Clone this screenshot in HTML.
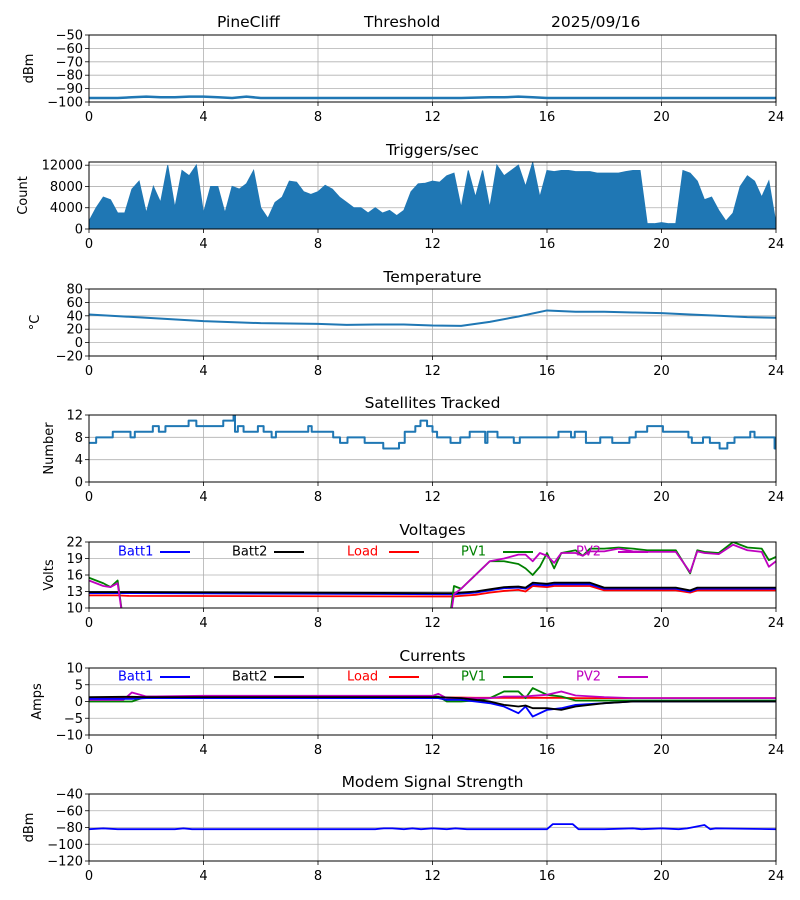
<!DOCTYPE html>
<html><head><meta charset="utf-8"><style>
html,body{margin:0;padding:0;background:#fff;}
svg{display:block;font-family:"DejaVu Sans","Liberation Sans",sans-serif;}
</style></head><body>
<svg id="fig" width="800" height="900" viewBox="0 0 800 900">
<text x="217" y="27" font-size="15.5">PineCliff</text>
<text x="364" y="27" font-size="15.5">Threshold</text>
<text x="551" y="27" font-size="15.5">2025/09/16</text>
</svg>
<script>
// ---- data ----
const xTicks = [0,4,8,12,16,20,24];
const sigH = [0,0.5,1,1.5,2,2.5,3,3.5,4,4.5,5,5.5,6,8,12,13,14,14.5,15,15.5,16,20,24];
const sigV = [-97,-97,-97,-96.5,-96,-96.5,-96.5,-96,-96,-96.5,-97,-96,-97,-97,-97,-97,-96.5,-96.5,-96,-96.5,-97,-97,-97];
const trigH = [0,0.25,0.5,0.75,1,1.25,1.5,1.75,2,2.25,2.5,2.75,3,3.25,3.5,3.75,4,4.25,4.5,4.75,5,5.25,5.5,5.75,6,6.25,6.5,6.75,7,7.25,7.5,7.75,8,8.25,8.5,8.75,9,9.25,9.5,9.75,10,10.25,10.5,10.75,11,11.25,11.5,11.75,12,12.25,12.5,12.75,13,13.25,13.5,13.75,14,14.25,14.5,14.75,15,15.25,15.5,15.75,16,16.25,16.5,16.75,17,17.25,17.5,17.75,18,18.25,18.5,18.75,19,19.25,19.5,19.75,20,20.25,20.5,20.75,21,21.25,21.5,21.75,22,22.25,22.5,22.75,23,23.25,23.5,23.75,24];
const trigV = [1500,4000,6000,5500,3000,3000,7500,9000,3000,8000,5000,12000,4000,11000,10000,12000,3000,8000,8000,3000,8000,7500,8500,11000,4000,2000,5000,6000,9000,8800,7000,6500,7000,8200,7500,6000,5000,4000,4000,3000,4000,3000,3500,2500,3500,7000,8500,8600,9000,8800,10000,10500,4000,11000,6000,11000,4000,12000,10000,11000,12000,8000,12500,6000,11000,10800,11000,11000,10800,10800,10800,10500,10500,10500,10500,10800,11000,11000,1000,1000,1200,1000,1000,11000,10500,9000,5500,6000,3500,1500,3000,8000,10000,9000,6000,9000,1000];
const tempH = [0,2,4,6,8,9,10,11,12,13,14,15,16,17,18,19,20,21,22,23,24];
const tempV = [42,37,32,29,28,26.5,27,27,25.5,25,31,39,48,46,46,45,44,42,40,38,37];
const satH = [0,0.25,0.83,1.45,1.6,2.23,2.44,2.67,3.48,3.75,4.69,5.05,5.1,5.2,5.4,5.9,6.1,6.38,6.53,7.66,7.78,8.53,8.77,9.03,9.63,10.28,10.83,11.03,11.4,11.58,11.81,12,12.16,12.63,12.97,13.3,13.84,13.92,14.27,14.84,15.05,16.4,16.84,16.97,17.36,17.86,18.28,18.88,19.1,19.5,20.05,20.94,21.06,21.45,21.69,22.03,22.3,22.55,23.1,23.25,23.95,24];
const satV = [7,8,9,8,9,10,9,10,11,10,11,12,9,10,9,10,9,8,9,10,9,8,7,8,7,6,7,9,10,11,10,9,8,7,8,9,7,9,8,7,8,9,8,9,7,8,7,8,9,10,9,8,7,8,7,6,7,8,9,8,6,6];
const vH = [0,0.5,0.75,1,1.4,12.4,12.75,13,13.5,14,14.5,15,15.25,15.5,15.75,16,16.25,16.5,17,17.25,17.5,18,18.5,19,19.5,20,20.5,21,21.25,21.5,22,22.5,23,23.5,23.75,24];
const vBatt1 = [12.7,12.7,12.7,12.7,12.7,12.5,12.5,12.6,12.8,13.2,13.6,13.7,13.5,14.3,14.2,14.1,14.3,14.3,14.3,14.3,14.3,13.5,13.5,13.5,13.5,13.5,13.5,13.0,13.5,13.5,13.5,13.5,13.5,13.5,13.5,13.5];
const vBatt2 = [12.9,12.9,12.9,12.9,12.9,12.7,12.7,12.8,13.0,13.4,13.8,13.9,13.7,14.6,14.5,14.4,14.6,14.6,14.6,14.6,14.6,13.7,13.7,13.7,13.7,13.7,13.7,13.2,13.7,13.7,13.7,13.7,13.7,13.7,13.7,13.7];
const vLoad = [12.3,12.3,12.3,12.3,12.2,12.1,12.1,12.2,12.4,12.8,13.1,13.3,13.0,14.0,13.9,13.8,14.0,14.0,14.0,14.0,14.0,13.2,13.2,13.2,13.2,13.2,13.2,12.8,13.2,13.2,13.2,13.2,13.2,13.2,13.2,13.2];
const vPV1 = [15.5,14.5,13.8,15,0,0,14,13.5,16,18.5,18.5,18,17.2,16,17.5,20,17.2,20,20.5,19.5,20.8,20.8,21,20.8,20.5,20.5,20.5,16.3,20.5,20.2,20,22,21,20.8,18.7,19.3];
const vPV2 = [15,14,13.8,14.5,0,0,12.5,13.5,16,18.5,19,19.7,19.7,18.5,20,19.5,18.2,20,20,19.5,20.3,20.3,20.8,20.3,20.2,20.2,20.2,16.5,20.3,20,19.8,21.5,20.5,20.2,17.5,18.5];
const cH = [0,1.2,1.5,2,4,8,12,12.2,12.5,13,13.5,14,14.5,15,15.25,15.5,16,16.5,17,18,19,20,22,24];
const cBatt1 = [0.8,0.8,0.8,1,1,1,1,1,0.5,0.5,0,-0.5,-1.5,-3.5,-1.5,-4.5,-2.5,-2,-1,-0.5,0,0,0,0];
const cBatt2 = [1.3,1.4,1.4,1.3,1.3,1.3,1.3,1.3,1.2,1,0.5,0,-1,-1.5,-1.2,-2,-2,-2.5,-1.5,-0.5,0,0,0,0];
const cLoad = [1.2,1.2,1.2,1.2,1.2,1.2,1.2,1.2,1.2,1.2,1.1,1.1,1.1,1.1,1.1,1.1,1.1,1.1,1,1,1,1,1,1];
const cPV1 = [0,0,0,1.5,1.5,1.5,1.5,1.5,0,0,0.3,1,3,3,1,4,2,1.5,0.3,0.3,0.3,0.3,0.3,0.3];
const cPV2 = [0.5,0.5,2.7,1.5,1.7,1.7,1.7,2.3,1,1,1,1,1.5,1.5,1.5,1.7,2,3,1.8,1.3,1,1,1,1];
const mH = [0,0.5,1,3,3.3,3.6,10,10.3,10.6,11,11.3,11.6,12,12.5,12.8,13.2,16,16.2,16.9,17.1,18,19,19.3,20,20.6,20.9,21.5,21.7,21.9,24];
const mV = [-82,-81,-82,-82,-81,-82,-82,-81,-81,-82,-81,-82,-81,-82,-81,-82,-82,-76,-76,-82,-82,-81,-82,-81,-82,-81,-77,-82,-81,-82];

// ---- helpers ----
const NS = "http://www.w3.org/2000/svg";
const svg = document.getElementById('fig');
const X0 = 89, X1 = 776;
function xs(h){ return X0 + (h/24)*(X1-X0); }
function mk(tag, attrs){ const e = document.createElementNS(NS, tag); for (const k in attrs) e.setAttribute(k, attrs[k]); svg.appendChild(e); return e; }
function fmt(v){ return v < 0 ? '\u2212' + Math.abs(v) : String(v); }

const panels = [
 {key:'signal', title:'', top:35, bottom:102, ymin:-100, ymax:-50, ticks:[-50,-60,-70,-80,-90,-100], ylabel:'dBm', lx:29},
 {key:'triggers', title:'Triggers/sec', top:162, bottom:229, ymin:0, ymax:12600, ticks:[0,4000,8000,12000], ylabel:'Count', lx:23},
 {key:'temperature', title:'Temperature', top:289, bottom:356, ymin:-20, ymax:80, ticks:[80,60,40,20,0,-20], ylabel:'°C', lx:35},
 {key:'satellites', title:'Satellites Tracked', top:415, bottom:482, ymin:0, ymax:12, ticks:[12,8,4,0], ylabel:'Number', lx:49},
 {key:'voltages', title:'Voltages', top:542, bottom:608, ymin:10, ymax:22, ticks:[22,19,16,13,10], ylabel:'Volts', lx:49},
 {key:'currents', title:'Currents', top:668, bottom:735, ymin:-10, ymax:10, ticks:[10,5,0,-5,-10], ylabel:'Amps', lx:37},
 {key:'modem', title:'Modem Signal Strength', top:794, bottom:861, ymin:-120, ymax:-40, ticks:[-40,-60,-80,-100,-120], ylabel:'dBm', lx:29}
];

function ysFor(p){ return v => p.bottom - (v - p.ymin)/(p.ymax - p.ymin)*(p.bottom - p.top); }

panels.forEach((p, i) => {
  const ys = ysFor(p);
  p.ys = ys;
  const clip = mk('clipPath', {id:'clip'+i});
  const cr = document.createElementNS(NS,'rect');
  cr.setAttribute('x', X0); cr.setAttribute('y', p.top); cr.setAttribute('width', X1-X0); cr.setAttribute('height', p.bottom-p.top);
  clip.appendChild(cr);
  xTicks.forEach(t => {
    const g = mk('line', {x1:xs(t), x2:xs(t), y1:p.top, y2:p.bottom, stroke:'#b0b0b0', 'stroke-width':0.8});
    
    
    const tk = mk('line', {x1:xs(t), x2:xs(t), y1:p.bottom, y2:p.bottom+4, stroke:'#000', 'stroke-width':0.8});
    
    
    const tl = mk('text', {x:xs(t), y:p.bottom+19, 'font-size':13, 'text-anchor':'middle'});
    tl.textContent = t;
    
    
  });
  p.ticks.forEach(t => {
    const g = mk('line', {x1:X0, x2:X1, y1:ys(t), y2:ys(t), stroke:'#b0b0b0', 'stroke-width':0.8});
    
    
    const tk = mk('line', {x1:X0-4, x2:X0, y1:ys(t), y2:ys(t), stroke:'#000', 'stroke-width':0.8});
    
    
    const tl = mk('text', {x:X0-6, y:ys(t)+4.5, 'font-size':13, 'text-anchor':'end'});
    tl.textContent = fmt(t);
    
    
  });
  if (p.title) {
    const tt = mk('text', {x:(X0+X1)/2, y:p.top-7, 'font-size':15.5, 'text-anchor':'middle'});
    tt.textContent = p.title;
    
    
  }
  const yl = mk('text', {x:0, y:0, 'font-size':13, 'text-anchor':'middle', transform:`translate(${p.lx+4},${(p.top+p.bottom)/2}) rotate(-90)`});
  yl.textContent = p.ylabel;
  
  
});

function line(pi, H, V, color, name, w, step){
  const p = panels[pi];
  let d = '';
  H.forEach((h, k) => {
    const x = xs(h), y = p.ys(V[k]);
    if (k === 0) d += `M${x},${y}`;
    else if (step) d += `H${x}V${y}`;
    else d += `L${x},${y}`;
  });
  const e = mk('path', {d:d, fill:'none', stroke:color, 'stroke-width':w||1.8, 'clip-path':`url(#clip${pi})`, 'stroke-linejoin':'round'});
  
  
}

line(0, sigH, sigV, '#1f77b4', 'signal-line', 2.5);
(function(){
  const p = panels[1];
  let d = `M${xs(trigH[0])},${p.ys(0)}`;
  trigH.forEach((h,k) => { d += `L${xs(h)},${p.ys(trigV[k])}`; });
  d += `L${xs(24)},${p.ys(0)}Z`;
  const e = mk('path', {d:d, fill:'#1f77b4', stroke:'#1f77b4', 'stroke-width':1, 'clip-path':'url(#clip1)'});
  
  
})();
line(2, tempH, tempV, '#1f77b4', 'temperature-line', 2);
line(3, satH, satV, '#1f77b4', 'satellites-line', 2, true);
line(4, vH, vLoad, '#ff0000', 'voltage-load-line', 1.8);
line(4, vH, vBatt1, '#0000ff', 'voltage-batt1-line', 1.8);
line(4, vH, vBatt2, '#000000', 'voltage-batt2-line', 1.8);
line(4, vH, vPV1, '#008000', 'voltage-pv1-line', 1.8);
line(4, vH, vPV2, '#bf00bf', 'voltage-pv2-line', 1.8);
line(5, cH, cLoad, '#ff0000', 'current-load-line', 1.8);
line(5, cH, cPV1, '#008000', 'current-pv1-line', 1.8);
line(5, cH, cPV2, '#bf00bf', 'current-pv2-line', 1.8);
line(5, cH, cBatt1, '#0000ff', 'current-batt1-line', 1.8);
line(5, cH, cBatt2, '#000000', 'current-batt2-line', 1.8);
line(6, mH, mV, '#0000ff', 'modem-line', 1.8);

const legNames = ['Batt1','Batt2','Load','PV1','PV2'];
const legColors = ['#0000ff','#000000','#ff0000','#008000','#bf00bf'];
const legX = [118,232,347,461,576];
[[4,551,4],[5,676,5]].forEach(([pi,y,n]) => {
  for (let k=0;k<n;k++){
    const t = mk('text', {x:legX[k], y:y+4.5, 'font-size':13, fill:legColors[k]});
    t.textContent = legNames[k];
    
    
    const l = mk('line', {x1:legX[k]+42, x2:legX[k]+72, y1:y+1, y2:y+1, stroke:legColors[k], 'stroke-width':2});
    
    
  }
});
(function(){
  const t = mk('text', {x:576, y:555.5, 'font-size':13, fill:'#bf00bf'});
  t.textContent = 'PV2';
  
  
  const l = mk('line', {x1:618, x2:648, y1:552, y2:552, stroke:'#bf00bf', 'stroke-width':2});
  
  
})();

panels.forEach(p => {
  const r = mk('rect', {x:X0, y:p.top, width:X1-X0, height:p.bottom-p.top, fill:'none', stroke:'#000', 'stroke-width':1});
  
  
});
</script>
</body></html>
